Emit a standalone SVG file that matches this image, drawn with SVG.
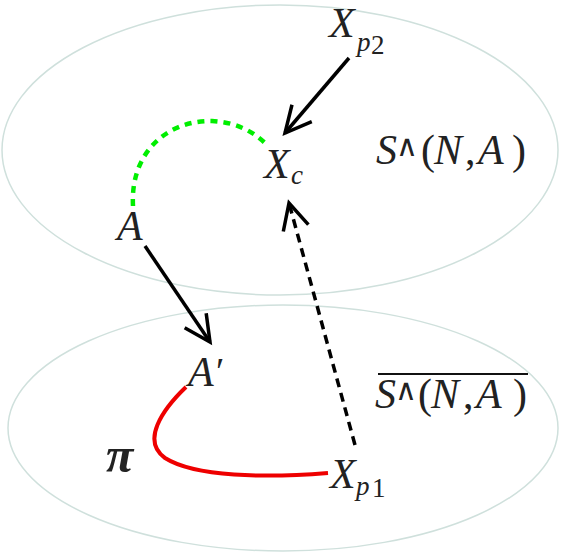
<svg xmlns="http://www.w3.org/2000/svg" width="561" height="554" viewBox="0 0 561 554">
<defs>
<style>
.set{fill:none;stroke:#cfe0dc;stroke-width:1.5}
.t{font-family:"Liberation Serif","Times New Roman",serif;font-style:italic;fill:#222}
.up{font-style:normal}
.big{font-size:42px}
.sub{font-size:27px}
.wedge{font-family:"DejaVu Sans",sans-serif;font-size:30px;fill:#222}
.arr{stroke:#000;stroke-width:3.5;fill:none}
</style>
<marker id="vhead" markerUnits="userSpaceOnUse" markerWidth="40" markerHeight="40" refX="0" refY="0" orient="auto" overflow="visible">
<path d="M-26,-13 L0,0 L-26,13" fill="none" stroke="#000" stroke-width="3.5" stroke-linejoin="miter"/>
</marker>
</defs>
<g id="set-top"><ellipse class="set" cx="280" cy="150" rx="278" ry="145"/>
<text class="t big" y="164"><tspan x="376">S</tspan><tspan x="421" class="up">(</tspan><tspan x="434">N</tspan><tspan x="465" class="up">,</tspan><tspan x="478">A</tspan><tspan x="512" class="up">)</tspan></text>
<text class="wedge" x="396" y="156">∧</text></g>
<g id="set-bottom"><ellipse class="set" cx="283" cy="428" rx="275" ry="123"/>
<line x1="378" y1="374" x2="528" y2="374" stroke="#111" stroke-width="2.2"/>
<text class="t big" y="408"><tspan x="375">S</tspan><tspan x="418" class="up">(</tspan><tspan x="431">N</tspan><tspan x="463" class="up">,</tspan><tspan x="476">A</tspan><tspan x="513" class="up">)</tspan></text>
<text class="wedge" x="395" y="400">∧</text></g>
<g id="connectors">
<path d="M133,206 C130,150 170,120 212,121 C236,122 254,132 266,144" fill="none" stroke="#00ee00" stroke-width="4.5" stroke-dasharray="7,6"/>
<path d="M186,387 C162,410 141,441 165,458 C195,477 265,478 328,473" fill="none" stroke="#ee0000" stroke-width="4"/>
<line class="arr" x1="349" y1="58" x2="285" y2="133" marker-end="url(#vhead)"/>
<line class="arr" x1="145" y1="246" x2="210" y2="342" marker-end="url(#vhead)"/>
<line class="arr" x1="355" y1="445" x2="289" y2="203" stroke-dasharray="9,6" marker-end="url(#vhead)"/>
</g>
<g id="node-xp2"><text class="t big" x="329" y="37">X</text><text class="t sub" x="357" y="51">p</text><text class="t sub up" x="371" y="54">2</text></g>
<g id="node-xc"><text class="t big" x="264" y="178">X</text><text class="t sub" x="291" y="184">c</text></g>
<g id="node-a"><text class="t big" x="117" y="240">A</text></g>
<g id="node-a-prime"><text class="t big" x="188" y="386">A</text><text class="t up" x="216" y="384" font-size="38">′</text></g>
<g id="node-xp1"><text class="t big" x="330" y="488">X</text><text class="t sub" x="356" y="495">p</text><text class="t sub up" x="372" y="497">1</text></g>
<g id="label-pi"><text class="t" x="106" y="472" font-size="50" font-weight="bold">π</text></g>
</svg>
